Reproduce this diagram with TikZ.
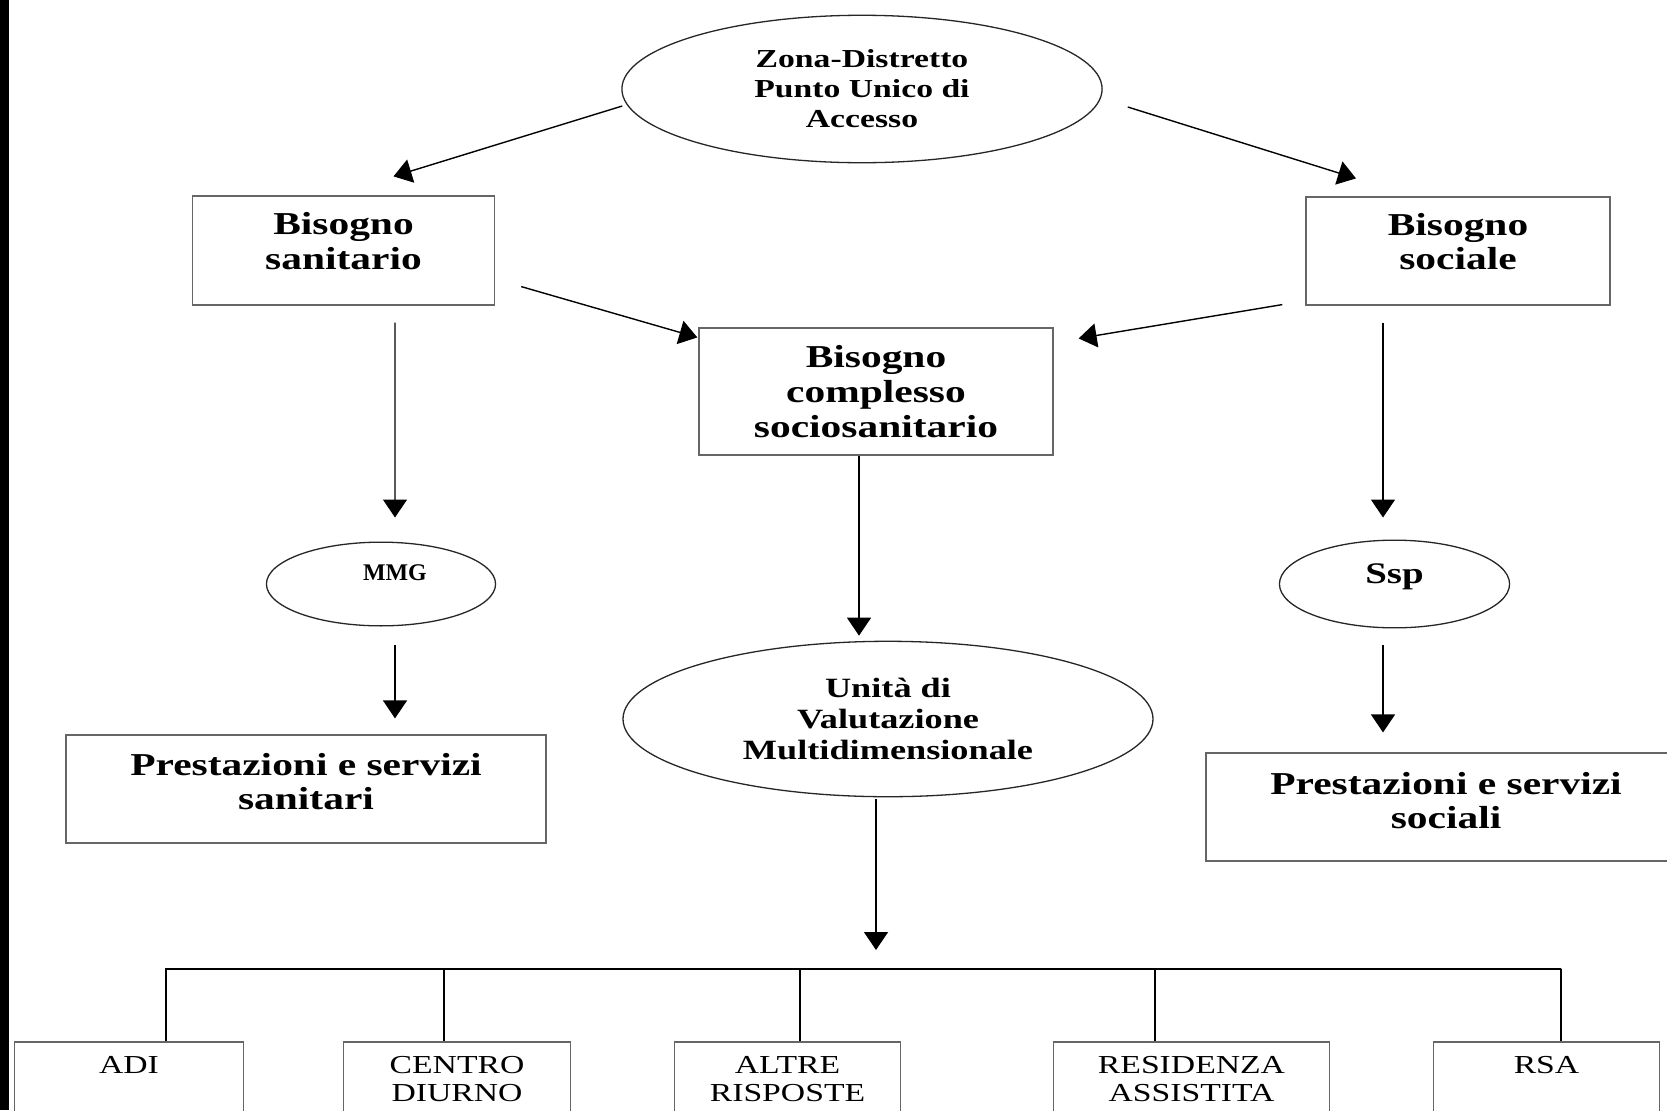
\documentclass[tikz,border=0pt]{standalone}
\usepackage{fontspec}
\setmainfont[FakeStretch=1.3]{Liberation Serif}
\newfontfamily\plainserif{Liberation Serif}
\usetikzlibrary{shapes.geometric,arrows.meta,calc}
\begin{document}
\begin{tikzpicture}[x=1bp,y=-1bp,
  boxs/.style={draw=black!60, line width=1.6bp, rectangle, inner sep=0pt},
  ell/.style={draw=black!85, line width=1.3bp, ellipse, inner sep=0pt},
  btxt/.style={font=\bfseries\fontsize{32}{35}\selectfont, align=center, inner sep=0pt},
  ztxt/.style={font=\bfseries\fontsize{26}{30}\selectfont, align=center},
  utxt/.style={font=\bfseries\fontsize{28}{31}\selectfont, align=center},
  rtxt/.style={font=\fontsize{26}{29}\selectfont, align=center, inner sep=0pt},
  conn/.style={line width=1.4bp, draw=black},
  arr/.style={conn, -{Triangle[length=18bp,width=24bp]}}]
\useasboundingbox (0,0) rectangle (1667,1110);
\fill[white] (0,0) rectangle (1667,1110);
\clip (0,0) rectangle (1667,1110);
\fill[black] (0,0) rectangle (9,1110);

% top ellipse
\node[ell, ztxt, minimum width=482, minimum height=148] (zona) at (862,89)
  {Zona-Distretto\\Punto Unico di\\Accesso};

% second row boxes
\node[boxs, minimum width=303, minimum height=109,
  label={[btxt,yshift=9.5]center:Bisogno\\sanitario}] (san) at (343.5,250.5) {};
\node[boxs, minimum width=305, minimum height=108,
  label={[btxt,yshift=9.5]center:Bisogno\\sociale}] (soc) at (1458,251) {};
\node[boxs, minimum width=355, minimum height=127,
  label={[btxt]center:Bisogno\\complesso\\sociosanitario}] (comp) at (876,391.5) {};

% ellipses
\node[ell, minimum width=230, minimum height=84,
  label={[font=\plainserif\bfseries\fontsize{24}{27}\selectfont, inner sep=0pt, yshift=11, xshift=14]center:MMG}] (mmg) at (381,584) {};
\node[ell, minimum width=231, minimum height=88,
  label={[font=\bfseries\fontsize{30}{33}\selectfont, inner sep=0pt, yshift=7]center:Ssp}] (ssp) at (1394.5,584) {};
\node[ell, utxt, minimum width=532, minimum height=156] (uvm) at (888,719)
  {Unità di\\Valutazione\\Multidimensionale};

% service boxes
\node[boxs, minimum width=482, minimum height=108,
  label={[btxt,yshift=7.5]center:Prestazioni e servizi\\sanitari}] (prsan) at (306,789) {};
\node[boxs, minimum width=482, minimum height=108,
  label={[btxt,yshift=6.5]center:Prestazioni e servizi\\sociali}] (prsoc) at (1446,807) {};

% bottom boxes
\node[boxs, minimum width=230, minimum height=120,
  label={[rtxt,yshift=37]center:ADI}] (adi) at (129,1102) {};
\node[boxs, minimum width=228, minimum height=120,
  label={[rtxt,yshift=23]center:CENTRO\\DIURNO}] (centro) at (457,1102) {};
\node[boxs, minimum width=227, minimum height=120,
  label={[rtxt,yshift=23]center:ALTRE\\RISPOSTE}] (altre) at (787.5,1102) {};
\node[boxs, minimum width=277, minimum height=120,
  label={[rtxt,yshift=23]center:RESIDENZA\\ASSISTITA}] (resid) at (1191.5,1102) {};
\node[boxs, minimum width=227, minimum height=120,
  label={[rtxt,yshift=37]center:RSA}] (rsa) at (1546.5,1102) {};

\coordinate (busR) at (1561,969);
\coordinate (busin) at (876,969);

% connectors
\draw[arr] ($(zona.west)+(1,17)$) -- ($(san.north)+(50,-19)$);
\draw[arr] ($(zona.east)+(25,18)$) -- ($(soc.north)+(-102,-18)$);
\draw[arr] ($(san.south east)+(26,-19)$) -- ($(comp.north west)+(-1,10)$);
\draw[arr] ($(soc.south west)+(-23,-1)$) -- ($(comp.north east)+(25,11)$);
\draw[arr] ($(san.south)+(51.5,17)$) -- ($(mmg.north)+(14,-24)$);
\draw[arr] ($(mmg.south)+(14,18)$) -- ($(prsan.north)+(89,-16)$);
\draw[arr] ($(comp.south)+(-17,0)$) -- ($(uvm.north)+(-29,-5)$);
\draw[arr] ($(uvm.south)+(-12,2)$) -- ($(busin)+(0,-19)$);
\draw[arr] ($(soc.south)+(-75,17)$) -- ($(ssp.north)+(-11.5,-22)$);
\draw[arr] ($(ssp.south)+(-11.5,17)$) -- ($(prsoc.north)+(-63,-20)$);

% bus
\draw[conn] ($(adi.north)+(37,0)$) |- (busR);
\draw[conn] ($(centro.north)+(-13,0)$) |- (busR);
\draw[conn] ($(altre.north)+(12.5,0)$) |- (busR);
\draw[conn] ($(resid.north)+(-36.5,0)$) |- (busR);
\draw[conn] ($(rsa.north)+(14.5,0)$) |- (busR);
\end{tikzpicture}
\end{document}
